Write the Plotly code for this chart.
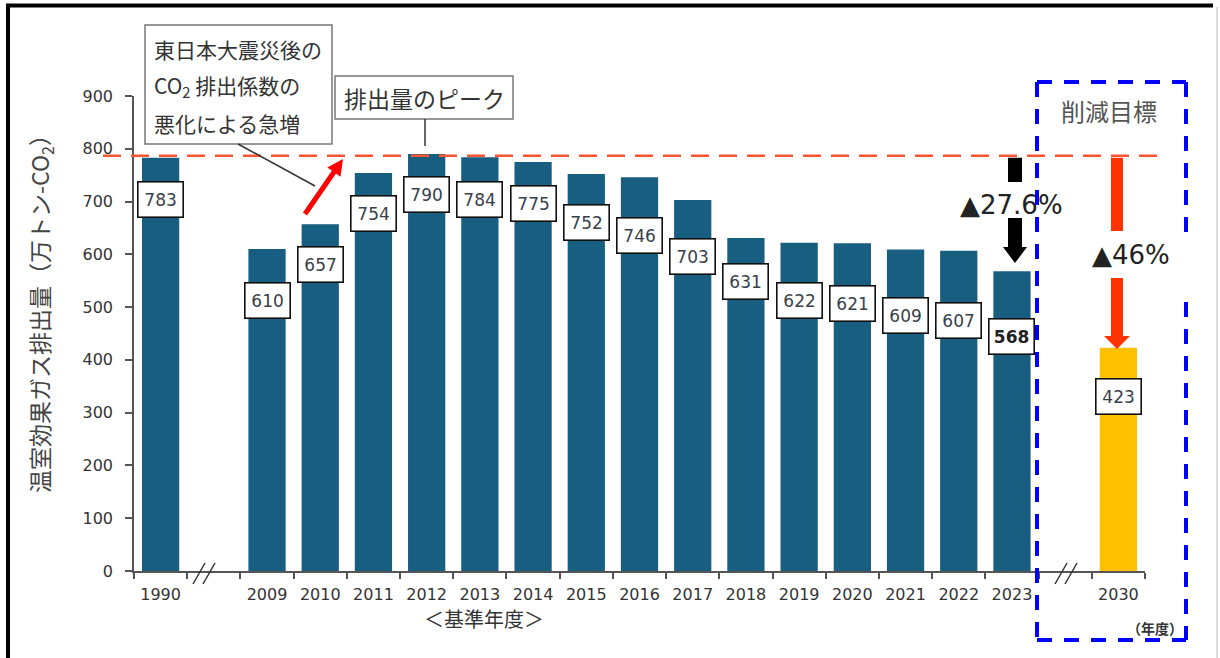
import math
import plotly.graph_objects as go

# ---------------- data ----------------
years = ["1990", "2009", "2010", "2011", "2012", "2013", "2014", "2015", "2016",
         "2017", "2018", "2019", "2020", "2021", "2022", "2023", "2030"]
emissions = [783, 610, 657, 754, 790, 784, 775, 752, 746, 703, 631, 622, 621,
             609, 607, 568, 423]
target_years = ["2030"]
category_order = ["1990", " ", "2009", "2010", "2011", "2012", "2013", "2014",
                  "2015", "2016", "2017", "2018", "2019", "2020", "2021", "2022",
                  "2023", "  ", "2030"]
base_year = "1990"
latest_year = "2023"
target_year = "2030"
reduction_latest_text = "▲27.6%"
reduction_target_text = "▲46%"

# ---------------- layout helpers ----------------
W, H = 1220, 658
L, R, T, B = 134, 1145, 96, 571          # plot area in pixels
Y_MAX = 900

def px(x):
    return (x - L) / (R - L)

def py(y):
    return (B - y) / (B - T)

# label box drop below bar top (in value units), staggered as in the original
label_drop = [80, 97, 77, 77, 77, 80, 78, 91, 111, 108, 82, 109, 115, 124, 132, 123, 92]

BLUE = "#185E80"
ORANGE = "#FFC000"
bar_colors = [ORANGE if y in target_years else BLUE for y in years]

fig = go.Figure()
fig.add_trace(go.Bar(
    x=years, y=emissions, marker=dict(color=bar_colors, line=dict(width=0)),
    width=0.70, showlegend=False, hoverinfo="x+y",
))

JP = "Noto Sans CJK JP"
NUM = "DejaVu Sans"

annotations = []
shapes = []

def note(x, y, text, font, **kw):
    d = dict(x=px(x), y=py(y), xref="paper", yref="paper", showarrow=False,
             text=text, font=font, xanchor="center", yanchor="middle")
    d.update(kw)
    annotations.append(d)

# value label boxes (placed on the category index of each bar)
for yr, v, d in zip(years, emissions, label_drop):
    bold = yr == latest_year
    annotations.append(dict(
        x=category_order.index(yr), y=v - d, xref="x", yref="y", showarrow=False,
        xanchor="center", yanchor="middle",
        text=f"<b>{v}</b>" if bold else str(v),
        font=dict(family=NUM, size=17, color="#222" if bold else "#38404a"),
        bgcolor="white", bordercolor="#111", borderwidth=1.6, borderpad=0,
        width=44, height=34, align="center", valign="middle",
    ))

# reference dashed line at base year level
base_val = emissions[years.index(base_year)]
base_py = B - base_val * (B - T) / Y_MAX
shapes.append(dict(type="line", xref="paper", yref="y", x0=px(103), x1=px(1167),
                   y0=base_val + 4, y1=base_val + 4,
                   line=dict(color="#FF5533", width=2.5, dash="18px,10px")))

# blue dashed target box
blue_line = dict(color="#0000FF", width=4, dash="15px,12px")
def pline(x0, y0, x1, y1, line):
    shapes.append(dict(type="line", xref="paper", yref="paper", x0=px(x0), y0=py(y0),
                       x1=px(x1), y1=py(y1), line=line))
pline(1037, 82, 1186, 82, blue_line)
pline(1037, 82, 1037, 640, blue_line)
pline(1037, 640, 1186, 640, blue_line)
pline(1186, 82, 1186, 232, blue_line)
pline(1186, 302, 1186, 640, blue_line)

def vrect(xc, half, y0, y1, color):
    return dict(type="rect", xref="paper", yref="paper",
                x0=px(xc - half), x1=px(xc + half), y0=py(y0), y1=py(y1),
                fillcolor=color, line=dict(width=0))

def tri_down(xc, half, ytop, ytip, color):
    path = (f"M {px(xc-half)} {py(ytop)} L {px(xc+half)} {py(ytop)} "
            f"L {px(xc)} {py(ytip)} Z")
    return dict(type="path", xref="paper", yref="paper", path=path,
                fillcolor=color, line=dict(width=0))

# black arrow (base -> latest)
shapes += [
    vrect(1015, 7, base_py, 182, "#000000"),
    vrect(1015, 7, 218, 248, "#000000"),
    tri_down(1015, 12, 247, 263, "#000000"),
]
note(1011, 205, reduction_latest_text, dict(family=NUM, size=26, color="#222"))

# red arrow (base -> target)
shapes += [
    vrect(1117, 6, base_py, 231, "#FF3300"),
    vrect(1117, 6, 278, 337, "#FF3300"),
    tri_down(1117, 13, 336, 349, "#FF3300"),
]
note(1131, 255, reduction_target_text, dict(family=NUM, size=26, color="#222"))
note(1109, 110, "削減目標", dict(family=JP, size=24, color="#555"))

# callout box 1
shapes.append(dict(type="rect", xref="paper", yref="paper", x0=px(145), x1=px(332),
                   y0=py(25), y1=py(144), fillcolor="white", line=dict(color="#777", width=1.5)))
for txt, yc in [("東日本大震災後の", 49), ("CO<sub>2</sub> 排出係数の", 86), ("悪化による急増", 123)]:
    note(152, yc, txt, dict(family=JP, size=21, color="#333"), xanchor="left")
pline(238, 144, 315, 186, dict(color="#333", width=1.5))

# red diagonal arrow
tx, ty, hx, hy = 305, 214, 343, 159
dx, dy = hx - tx, hy - ty
ln = math.hypot(dx, dy)
ux, uy = dx / ln, dy / ln
hl, hw = 16, 8
bx, by = hx - ux * hl, hy - uy * hl
pline(tx, ty, bx + ux * 2, by + uy * 2, dict(color="#FF0000", width=5))
shapes.append(dict(type="path", xref="paper", yref="paper",
                   path=(f"M {px(hx)} {py(hy)} L {px(bx - uy*hw)} {py(by + ux*hw)} "
                         f"L {px(bx + uy*hw)} {py(by - ux*hw)} Z"),
                   fillcolor="#FF0000", line=dict(width=0)))

# callout box 2
shapes.append(dict(type="rect", xref="paper", yref="paper", x0=px(335), x1=px(513),
                   y0=py(76), y1=py(119), fillcolor="white", line=dict(color="#777", width=1.5)))
note(424, 98, "排出量のピーク", dict(family=JP, size=23, color="#333"))
pline(425, 119, 425, 146, dict(color="#333", width=1.5))

# axis break marks
for x0 in (193, 203, 1055, 1065):
    pline(x0, 584, x0 + 12, 563, dict(color="#333", width=1.5))

# axis titles
note(40, 308, "温室効果ガス排出量（万トン-CO<sub>2</sub>）", dict(family=JP, size=23, color="#444"),
     textangle=-90)
note(484, 618, "＜基準年度＞", dict(family=JP, size=20, color="#333"))
note(1155, 628, "<b>（年度）</b>", dict(family=JP, size=14, color="#333"))

# frame of the picture
pline(8, 4, 8, 660, dict(color="black", width=4))
pline(6, 5.5, 1213, 5.5, dict(color="black", width=4))
pline(1217, 7, 1217, 660, dict(color="#BBBBBB", width=1))

fig.update_layout(
    width=W, height=H,
    margin=dict(l=L, r=W - R, t=T, b=H - B, pad=0),
    plot_bgcolor="white", paper_bgcolor="white",
    xaxis=dict(type="category", categoryorder="array", categoryarray=category_order,
               range=[-0.5, len(category_order) - 0.5],
               tickson="boundaries", ticks="outside", ticklen=6, tickwidth=1.5, tickcolor="#555",
               showline=True, linecolor="#555", linewidth=1.5, showgrid=False,
               tickfont=dict(family=NUM, size=16, color="#333"), ticklabelstandoff=8,
               fixedrange=True),
    yaxis=dict(range=[0, Y_MAX], dtick=100, tick0=0, ticks="outside", ticklen=7,
               tickwidth=1.5, tickcolor="#555", showline=True, linecolor="#555",
               linewidth=1.5, showgrid=False, zeroline=False,
               tickfont=dict(family=NUM, size=16, color="#333"), ticklabelstandoff=9,
               fixedrange=True),
    annotations=annotations, shapes=shapes,
)

fig.write_html("out.html", post_script="document.body.style.margin='0';",
               config={"displayModeBar": False})
